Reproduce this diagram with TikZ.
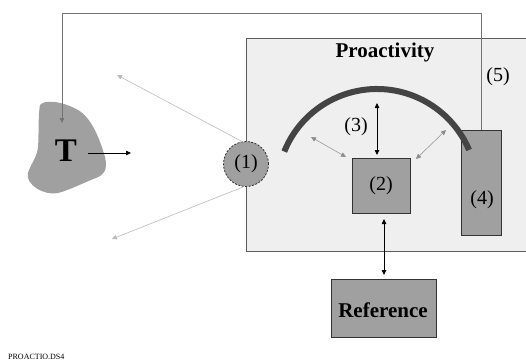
\documentclass[tikz,border=0pt]{standalone}
\usepackage{fontspec}
\setmainfont{Liberation Serif}
\usetikzlibrary{arrows.meta}
\definecolor{panel}{HTML}{EFEFEF}
\definecolor{boxgray}{HTML}{A0A0A0}
\definecolor{edge}{HTML}{333333}
\definecolor{arcgray}{HTML}{444444}
\definecolor{thin}{HTML}{BBBBBB}
\tikzset{
  tip/.style={-{Triangle[length=5pt,width=4.5pt]}},
  twotip/.style={{Triangle[length=5pt,width=4.5pt]}-{Triangle[length=5pt,width=4.5pt]}},
  graybox/.style={draw=edge,fill=boxgray,line width=0.8pt,inner sep=0pt},
  lbl/.style={font=\fontsize{20}{22}\selectfont},
  blbl/.style={font=\fontsize{21}{23}\selectfont\bfseries},
}
\begin{document}
\begin{tikzpicture}[x=1pt,y=-1pt]
\useasboundingbox (0,0) rectangle (526,361);
% proactivity panel
\node[draw=edge!80,fill=panel,line width=0.8pt,minimum width=300pt,minimum height=213pt,anchor=north west,inner sep=0pt] (panel) at (246,38) {};
\node[blbl] (title) at (385,52) {Proactivity};
% target blob
\fill[boxgray] (40,105) .. controls (44,100) and (60,100) .. (78,110)
  .. controls (92,118) and (100,140) .. (105,157)
  .. controls (108,170) and (104,175) .. (96,178)
  .. controls (85,182) and (70,190) .. (58,193)
  .. controls (45,196) and (25,185) .. (28,173)
  .. controls (30,165) and (37,158) .. (38,147)
  .. controls (39,135) and (38,115) .. (40,105) -- cycle;
\node[font=\fontsize{33}{35}\selectfont\bfseries] (T) at (66,151) {T};
\coordinate (Tout) at (88,153);
\coordinate (Tend) at (131,153);
\draw[tip,line width=0.8pt] (Tout) -- (Tend);
% box 4 and feedback loop
\node[graybox,minimum width=40pt,minimum height=105pt,anchor=north west] (b4) at (461,130) {};
\node[lbl] at (482,200) {(4)};
\coordinate (Tin) at (62,123);
\draw[draw=black!55,line width=0.8pt,tip] (b4.north) |- (62,13) -- (Tin);
\node[lbl] (five) at (498,77) {(5)};
% arc over box 2
\draw[arcgray,line width=6pt] (377,189) ++(-158:100) arc[start angle=-158,end angle=-23,radius=100];
% box 2
\node[graybox,minimum width=58pt,minimum height=55pt,anchor=north west] (b2) at (352,158) {};
\node[lbl] at (381,186) {(2)};
\node[lbl] (three) at (356,127) {(3)};
\coordinate (a3t) at (377,103);
\coordinate (a3b) at (377,155);
\draw[twotip,line width=0.8pt] (a3t) -- (a3b);
\coordinate (dl1) at (311,137);
\coordinate (dl2) at (346,157);
\draw[twotip,draw=black!45,line width=0.5pt] (dl1) -- (dl2);
\coordinate (dr1) at (446,130);
\coordinate (dr2) at (416,159);
\draw[twotip,draw=black!45,line width=0.5pt] (dr1) -- (dr2);
% circle 1 and its rays
\node[circle,fill=boxgray,draw=edge,dash pattern=on 2pt off 1.5pt,line width=0.8pt,minimum size=45pt,inner sep=0pt,lbl] (c1) at (246,164) {(1)};
\coordinate (up) at (117,75);
\coordinate (dn) at (112,239);
\draw[tip,draw=thin,line width=0.6pt] (243,142) -- (up);
\draw[tip,draw=thin,line width=0.6pt] (243,187) -- (dn);
% reference
\node[graybox,minimum width=105pt,minimum height=58pt,anchor=north west] (ref) at (331,279) {};
\node[blbl] at (383,310) {Reference};
\draw[twotip,line width=0.8pt] (384,219) -- (384,275);
% file tag
\node[font=\fontsize{8}{9}\selectfont,anchor=south west,inner sep=0pt] at (8,359.5) {PROACTIO.DS4};
\end{tikzpicture}
\end{document}
